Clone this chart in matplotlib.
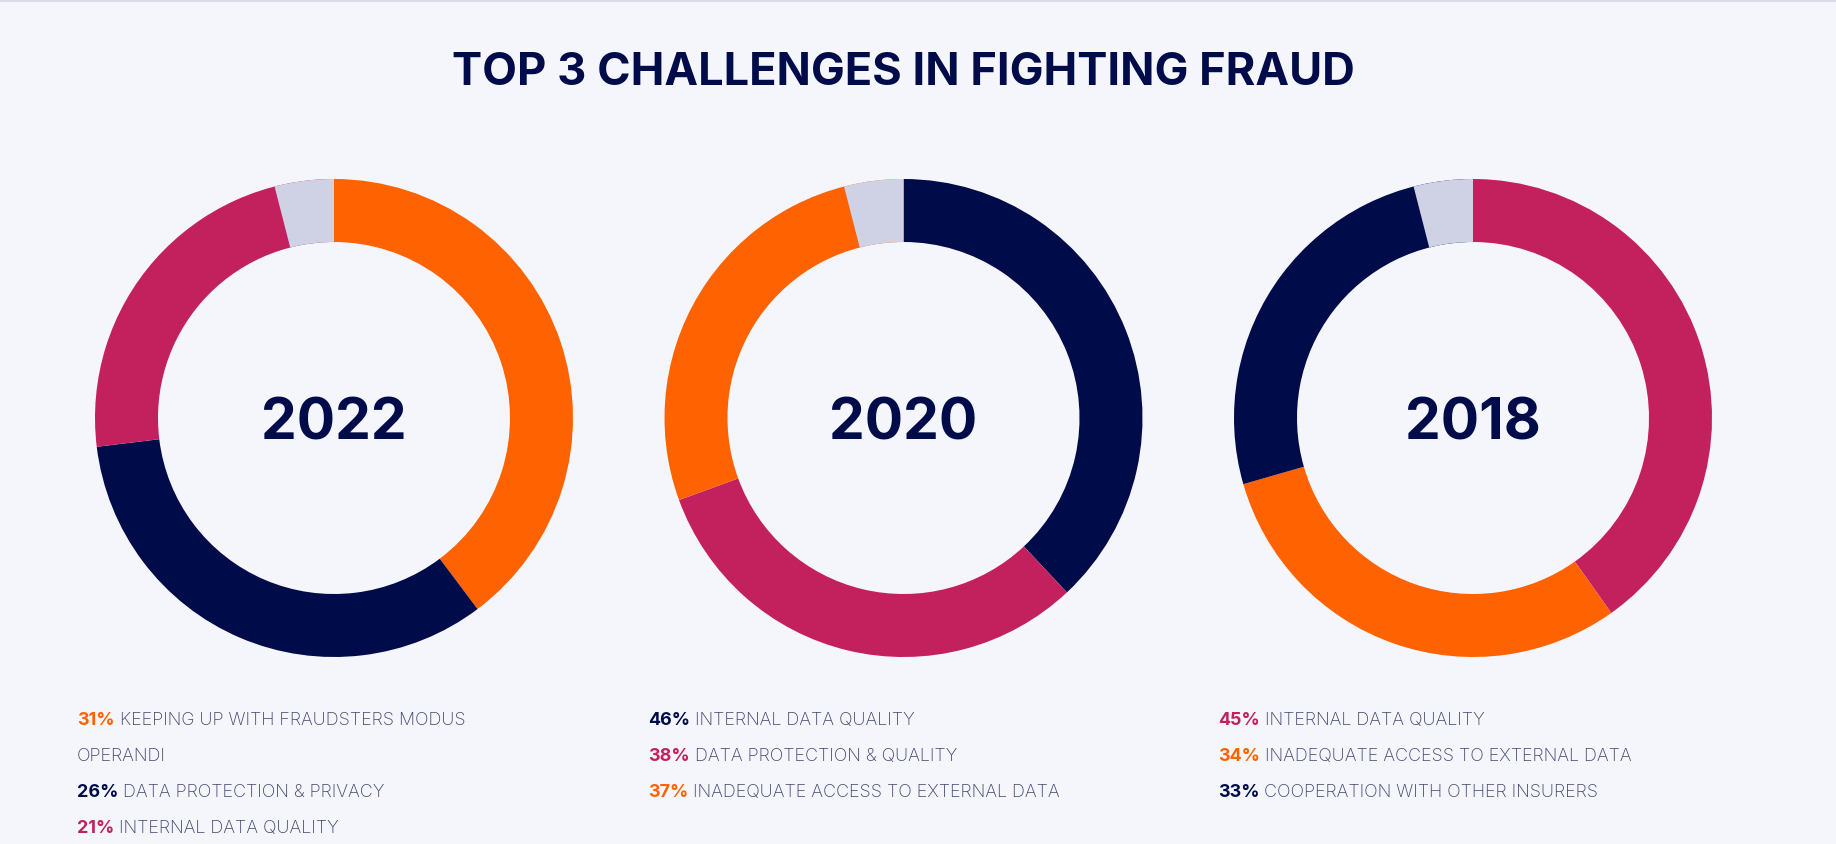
import matplotlib
matplotlib.use("Agg")
import matplotlib.pyplot as plt
from matplotlib.patches import Wedge

W, H = 1836, 844

years = ["2022", "2020", "2018"]
values_2022 = [31, 26, 21]
values_2020 = [46, 38, 37]
values_2018 = [45, 34, 33]
colors_2022 = ["#FF6200", "#000C4A", "#C2215D"]
colors_2020 = ["#000C4A", "#C2215D", "#FF6200"]
colors_2018 = ["#C2215D", "#FF6200", "#000C4A"]
labels_2022 = ["KEEPING UP WITH FRAUDSTERS MODUS\nOPERANDI",
               "DATA PROTECTION & PRIVACY",
               "INTERNAL DATA QUALITY"]
labels_2020 = ["INTERNAL DATA QUALITY",
               "DATA PROTECTION & QUALITY",
               "INADEQUATE ACCESS TO EXTERNAL DATA"]
labels_2018 = ["INTERNAL DATA QUALITY",
               "INADEQUATE ACCESS TO EXTERNAL DATA",
               "COOPERATION WITH OTHER INSURERS"]
gap_share = 0.04  # grey marker slice at 12 o'clock

all_values = [values_2022, values_2020, values_2018]
all_colors = [colors_2022, colors_2020, colors_2018]
all_labels = [labels_2022, labels_2020, labels_2018]

BG = "#F5F6FB"
NAVY = "#000C4A"
GREY = "#CFD2E5"
TXT = "#40466F"

fig = plt.figure(figsize=(W / 100, H / 100), dpi=100, facecolor=BG)


def fx(x):
    return x / W


def fy(y):
    return 1 - y / H


# thin border line at the top
fig.add_artist(plt.Line2D([0, 1], [fy(0.5), fy(0.5)], color="#DADCE6", lw=1.5))

fig.text(fx(903), fy(85), "TOP 3 CHALLENGES IN FIGHTING FRAUD", ha="center",
         va="baseline", fontsize=32.5, fontweight="bold", color=NAVY,
         family=["Inter", "DejaVu Sans"])

centers = [334, 903.5, 1473]
cy = 418
r_out = 239
ring = 63 / 239

for i, cx in enumerate(centers):
    ax = fig.add_axes([fx(cx - r_out), fy(cy + r_out), 2 * r_out / W, 2 * r_out / H])
    ax.set_facecolor("none")
    ax.pie(all_values[i], colors=all_colors[i], startangle=90, counterclock=False,
           radius=1, wedgeprops=dict(width=ring, linewidth=0))
    ax.add_patch(Wedge((0, 0), 1, 90, 90 + gap_share * 360, width=ring,
                       facecolor=GREY, linewidth=0))
    ax.set_xlim(-1, 1)
    ax.set_ylim(-1, 1)
    ax.set_aspect("equal")
    ax.axis("off")
    fig.text(fx(cx), fy(439), years[i], ha="center", va="baseline", fontsize=41,
             fontweight="bold", color=NAVY, family=["Inter", "DejaVu Sans"])

# legends under each donut
col_x = [77, 648, 1218]
row_y0 = 725
row_step = 36
fs = 12.9
renderer = fig.canvas.get_renderer()

for i, x0 in enumerate(col_x):
    row = 0
    for val, col, lab in zip(all_values[i], all_colors[i], all_labels[i]):
        y = row_y0 + row * row_step
        t = fig.text(fx(x0), fy(y), f"{val}%", ha="left", va="baseline",
                     fontsize=fs, fontweight="bold", color=col,
                     family=["Inter", "DejaVu Sans"])
        bb = t.get_window_extent(renderer)
        lines = lab.split("\n")
        fig.text(fx(bb.x1 + 5), fy(y), lines[0], ha="left", va="baseline",
                 fontsize=fs, fontweight="light", color=TXT,
                 family=["Inter", "DejaVu Sans"])
        for extra in lines[1:]:
            row += 1
            fig.text(fx(x0), fy(row_y0 + row * row_step), extra, ha="left",
                     va="baseline", fontsize=fs, fontweight="light", color=TXT,
                     family=["Inter", "DejaVu Sans"])
        row += 1

fig.savefig("out.png", dpi=100, facecolor=BG)
